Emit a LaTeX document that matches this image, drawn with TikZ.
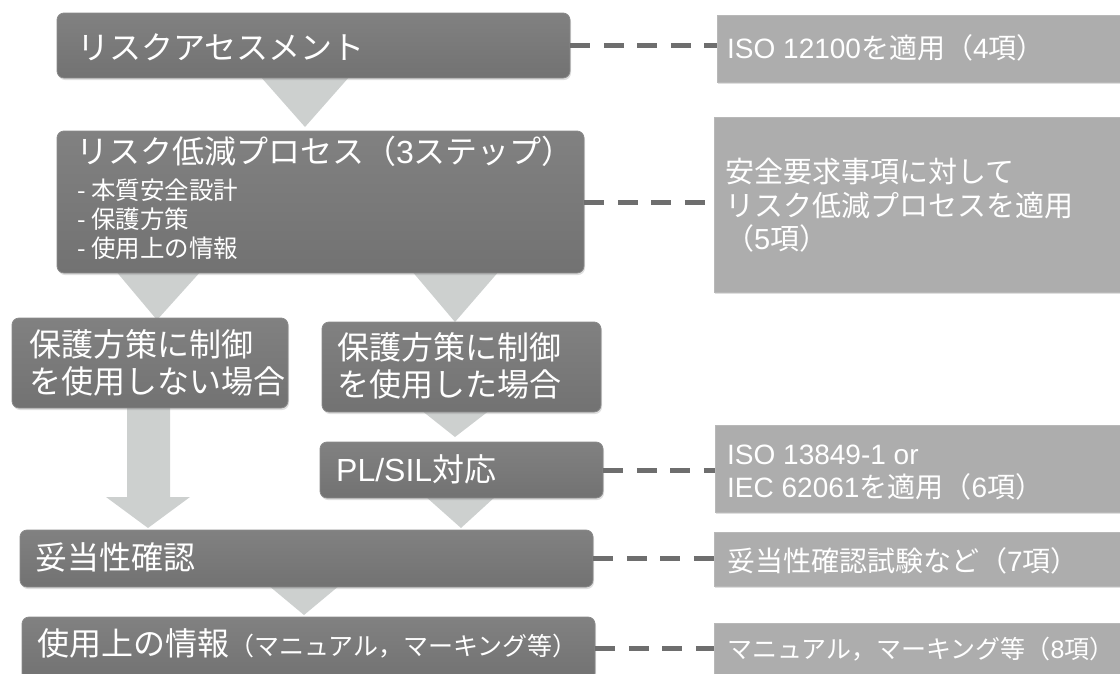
\documentclass[tikz,border=0pt]{standalone}
\usepackage{fontspec}
\setmainfont{Noto Sans CJK JP}
\newfontfamily\lat{Liberation Sans}
\usetikzlibrary{shadows}
\definecolor{dkfill}{HTML}{787878}
\definecolor{dktop}{HTML}{818181}
\definecolor{dkbot}{HTML}{727272}
\definecolor{dkedge}{HTML}{8A8A8A}
\definecolor{ltfill}{HTML}{ADADAD}
\definecolor{ltedge}{HTML}{B8B8B8}
\definecolor{trifill}{HTML}{CDD0CF}
\definecolor{dashcol}{HTML}{6E6E6E}
\tikzset{
  darkbox/.style={rounded corners=7pt, top color=dktop, bottom color=dkbot, draw=dkedge, line width=0.8pt,
    inner sep=0pt, drop shadow={shadow xshift=1pt, shadow yshift=-2pt, opacity=0.25}},
  lightbox/.style={fill=ltfill, draw=ltedge, line width=0.6pt, inner sep=0pt,
    drop shadow={shadow xshift=1pt, shadow yshift=-2pt, opacity=0.25}},
  tri/.style={fill=trifill, draw=none},
  dashline/.style={draw=dashcol, line width=5pt, dash pattern=on 20pt off 13.5pt},
  txt/.style={text=white, inner sep=0pt, anchor=west},
  big/.style={txt, font=\fontsize{32}{38}\selectfont, text height=28.2pt, text depth=3.8pt},
  bullet/.style={txt, font=\fontsize{24.5}{29}\selectfont, text height=21.6pt, text depth=2.9pt},
  rtxt/.style={txt, font=\fontsize{28}{34}\selectfont, text height=24.6pt, text depth=3.4pt},
  rtxtl/.style={txt, font=\fontsize{29}{34}\selectfont, text height=25.5pt, text depth=3.5pt},
  rtxts/.style={txt, font=\fontsize{25}{30}\selectfont, text height=22pt, text depth=3pt},
}
\begin{document}
\begin{tikzpicture}[x=1pt, y=-1pt]
\useasboundingbox (0,0) rectangle (1120,673);

% triangles / arrows (behind boxes)
\fill[tri] (260,76) -- (350,76) -- (305,127) -- cycle;
\fill[tri] (115,270) -- (202,270) -- (157,320) -- cycle;
\fill[tri] (411,270) -- (500,270) -- (455,322) -- cycle;
\fill[tri] (127,405) -- (170,405) -- (170,497) -- (190,497) -- (148,528) -- (106,497) -- (127,497) -- cycle;
\fill[tri] (421,410) -- (490,410) -- (455,437) -- cycle;
\fill[tri] (425,496) -- (496,496) -- (461,528) -- cycle;
\fill[tri] (268,585) -- (340,585) -- (304,615) -- cycle;

% left flow boxes
\node[darkbox, minimum width=513pt, minimum height=65pt] (ra) at (313.5,45.5) {};
\node[darkbox, minimum width=527pt, minimum height=142pt] (rr) at (320.5,202) {};
\node[darkbox, minimum width=276pt, minimum height=90pt] (nc) at (150,363) {};
\node[darkbox, minimum width=279pt, minimum height=90pt] (wc) at (461.5,367) {};
\node[darkbox, minimum width=283pt, minimum height=56pt] (pl) at (461.5,470) {};
\node[darkbox, minimum width=573pt, minimum height=57pt] (va) at (306.5,558.5) {};
\node[darkbox, minimum width=573pt, minimum height=63pt] (in) at (308.5,648.5) {};

% right boxes
\node[lightbox, minimum width=413pt, minimum height=67pt] (r1) at (923.5,48.5) {};
\node[lightbox, minimum width=416pt, minimum height=175pt] (r2) at (922,204.5) {};
\node[lightbox, minimum width=415pt, minimum height=87pt] (r3) at (922.5,468.5) {};
\node[lightbox, minimum width=416pt, minimum height=54pt] (r4) at (922,559) {};
\node[lightbox, minimum width=416pt, minimum height=67pt] (r5) at (922,656.5) {};

% dashed connectors
\draw[dashline] (ra.east) -- (ra.east -| r1.west);
\draw[dashline] (rr.east) -- (rr.east -| r2.west);
\draw[dashline] (pl.east) -- (pl.east -| r3.west);
\draw[dashline] (va.east) -- (va.east -| r4.west);
\draw[dashline] (in.east) -- (in.east -| r5.west);

% texts, left
\node[big] (tra) at (77,47) {リスクアセスメント};
\node[big] (trr) at (76,151) {リスク低減プロセス（{\lat 3}ステップ）};
\node[bullet] (trr1) at (77,190) {- 本質安全設計};
\node[bullet] (trr2) at (77,219) {- 保護方策};
\node[bullet] (trr3) at (77,248) {- 使用上の情報};
\node[big] (tnc1) at (29,344) {保護方策に制御};
\node[big] (tnc2) at (29,381) {を使用しない場合};
\node[big] (twc1) at (337,347) {保護方策に制御};
\node[big] (twc2) at (337,384) {を使用した場合};
\node[big] (tpl) at (336,469) {{\lat PL/SIL}対応};
\node[big] (tva) at (35,557) {妥当性確認};
\node[big] (tin) at (37,643) {使用上の情報{\fontsize{25}{30}\selectfont（マニュアル，マーキング等）}};

% texts, right
\node[rtxt] (tr1) at (727,48) {{\lat ISO 12100}を適用（{\lat 4}項）};
\node[rtxtl] (tr2a) at (725,171) {安全要求事項に対して};
\node[rtxtl] (tr2b) at (725,205) {リスク低減プロセスを適用};
\node[rtxtl] (tr2c) at (725,238) {（{\lat 5}項）};
\node[rtxt] (tr3a) at (727,454) {{\lat ISO 13849-1 or}};
\node[rtxt] (tr3b) at (727,487) {{\lat IEC 62061}を適用（{\lat 6}項）};
\node[rtxt] (tr4) at (727,561) {妥当性確認試験など（{\lat 7}項）};
\node[rtxts] (tr5) at (727,649) {マニュアル，マーキング等（{\lat 8}項）};
\end{tikzpicture}
\end{document}
